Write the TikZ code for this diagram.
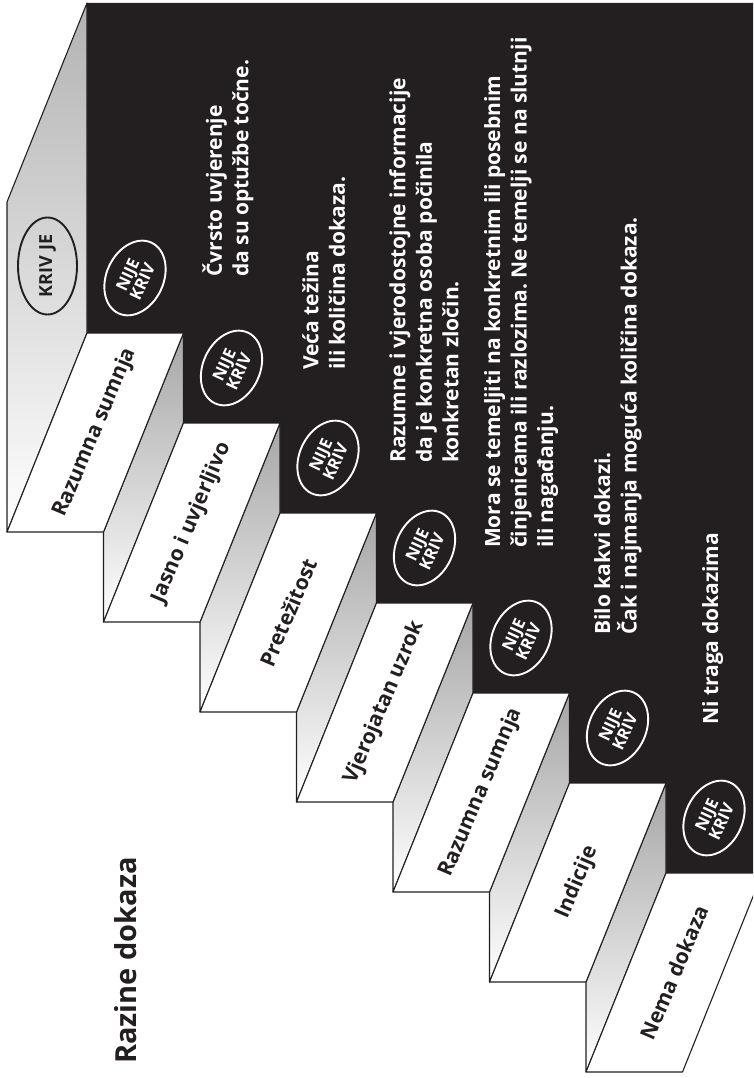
\documentclass[tikz,border=0pt]{standalone}
\usepackage{fontspec}
\setmainfont{Open Sans}
\frenchspacing
\usetikzlibrary{shapes.geometric}
\definecolor{ink}{RGB}{35,31,32}
\tikzset{
  tread/.style={fill=white,draw=ink,line width=1.1pt,line join=round},
  riser/.style={top color=gray!70,bottom color=white,draw=ink,line width=1.1pt,line join=round},
  steplabel/.style={rotate=67,text=ink,font=\fontsize{21}{24}\selectfont\bfseries},
  desc/.style={rotate=90,anchor=north west,align=left,inner sep=0pt,text=white,font=\fontsize{21}{26.5}\selectfont\bfseries},
  notguilty/.style={ellipse,draw=white,line width=1.9pt,fill=ink,text=white,rotate=65,minimum width=78pt,minimum height=57pt,inner sep=0pt,align=center,font=\fontsize{16.5}{14}\selectfont\bfseries},
  guilty/.style={ellipse,draw=ink,line width=1.9pt,text=ink,rotate=90,minimum width=97pt,minimum height=59pt,inner sep=0pt,font=\fontsize{18}{18}\selectfont\bfseries},
}
\begin{document}
\begin{tikzpicture}[x=1pt,y=-1pt]
\useasboundingbox (0,0) rectangle (753,1078);
\clip (0,0) rectangle (753,1078);
\def\dx{96.5}\def\dy{90}
% black back wall
\fill[ink] (87,3) -- (753,3) -- (753,873)
  \foreach \i in {6,...,1} {-- ({87+\dx*\i},{333+\dy*\i}) -- ({87+\dx*\i},{333+\dy*(\i-1)})} -- (87,333) -- cycle;
% side wall of the top landing
\shade[top color=gray!60,bottom color=white,draw=ink,line width=1.1pt,line join=round] (87,3) -- (87,333) -- (7,532) -- (7,202) -- cycle;
\node[guilty] (kriv) at (47.5,266) {KRIV JE};
% risers and treads
\foreach \i in {0,...,5}
  \path[riser] ({87+\dx*(\i+1)},{333+\dy*\i}) -- ++(0,\dy) -- ++(-80,199) -- ++(0,-\dy) -- cycle;
\foreach \lbl [count=\i from 0] in {Razumna sumnja,Jasno i uvjerljivo,Pretežitost,Vjerojatan uzrok,Razumna sumnja,Indicije,Nema dokaza}{
  \path[tread] ({87+\dx*\i},{333+\dy*\i}) -- ++(\dx,0) -- ++(-80,199) -- ++(-\dx,0) -- cycle;
  \node[steplabel] (step\i) at ({87+\dx*\i+8.25},{333+\dy*\i+99.5}) {\lbl};
  \node[notguilty] (nije\i) at ({87+\dx*\i+48},{333+\dy*\i-55}) {NIJE\\KRIV};
}
% descriptions
\node[desc] (d0) at (202,277) {Čvrsto uvjerenje\\da su optužbe točne.};
\node[desc] (d1) at (302,370) {Veća težina\\ili količina dokaza.};
\node[desc] (d2) at (389,463) {Razumne i vjerodostojne informacije\\da je konkretna osoba počinila\\konkretan zločin.};
\node[desc] (d3) at (484,548) {Mora se temeljiti na konkretnim ili posebnim\\činjenicama ili razlozima. Ne temelji se na slutnji\\ili nagađanju.};
\node[desc] (d4) at (594,635) {Bilo kakvi dokazi.\\Čak i najmanja moguća količina dokaza.};
\node[desc] (d5) at (702,725) {Ni traga dokazima};
\node[rotate=90,anchor=north west,inner sep=0pt,text=ink,font=\fontsize{29}{30}\selectfont\bfseries] (title) at (114,1064) {Razine dokaza};
\end{tikzpicture}
\end{document}
